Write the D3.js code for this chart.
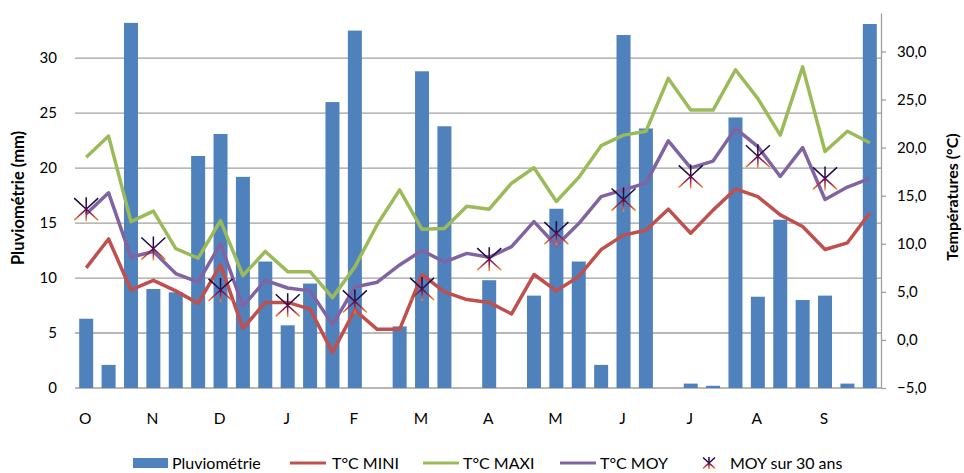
<!DOCTYPE html>
<html>
<head>
<meta charset="utf-8">
<script src="https://cdn.jsdelivr.net/npm/d3@7"></script>
<style>
  body { margin: 0; background: #fff; }
  text { font-family: Lato, "Liberation Sans", sans-serif; fill: #000; }
</style>
</head>
<body>
<script>
/*Original data: 3 decades per month, Oct to Sep*/
const months = ['O','N','D','J','F','M','A','M','J','J','A','S']
const decades = ['O1','O2','O3','N1','N2','N3','D1','D2','D3','J1','J2','J3',
                 'F1','F2','F3','M1','M2','M3','A1','A2','A3','Mai1','Mai2','Mai3',
                 'Jn1','Jn2','Jn3','Jl1','Jl2','Jl3','Ao1','Ao2','Ao3','S1','S2','S3']
const pluvio = [6.3, 2.1, 33.2, 9.0, 8.7, 21.1, 23.1, 19.2, 11.5, 5.7, 9.5, 26.0,
                32.5, 0, 5.6, 28.8, 23.8, 0, 9.8, 0, 8.4, 16.3, 11.5, 2.1,
                32.1, 23.6, 0, 0.4, 0.2, 24.6, 8.3, 15.3, 8.0, 8.4, 0.4, 33.1]
const tMini = [7.5, 10.5, 5.2, 6.2, 5.1, 3.8, 7.8, 1.2, 3.9, 3.9, 3.2, -1.3,
               3.1, 1.1, 1.1, 6.8, 5.0, 4.2, 3.9, 2.7, 6.8, 5.1, 6.6, 9.4,
               10.9, 11.4, 13.6, 11.1, 13.5, 15.7, 14.9, 13.0, 11.8, 9.4, 10.1, 13.2]
const tMaxi = [19.0, 21.2, 12.3, 13.4, 9.5, 8.5, 12.4, 6.7, 9.2, 7.1, 7.1, 4.4,
               7.6, 12.0, 15.6, 11.5, 11.6, 13.9, 13.6, 16.3, 17.9, 14.4, 16.9, 20.2,
               21.3, 21.7, 27.2, 23.9, 23.9, 28.1, 25.1, 21.3, 28.4, 19.6, 21.7, 20.5]
const tMoy = [13.1, 15.3, 8.6, 9.2, 6.9, 6.0, 10.0, 3.5, 6.2, 5.4, 5.1, 1.6,
              5.5, 6.0, 7.8, 9.3, 8.1, 9.0, 8.6, 9.7, 12.3, 9.8, 12.1, 14.9,
              15.6, 16.3, 20.7, 17.9, 18.6, 22.0, 20.1, 17.0, 20.0, 14.6, 15.9, 16.8]
/*30 years mean, one per month (placed on first decade)*/
const moy30 = [13.6, 9.5, 5.2, 3.6, 4.0, 5.3, 8.4, 11.1, 14.6, 17.0, 19.1, 16.8]
const pluvioTicks = [0, 5, 10, 15, 20, 25, 30]
const tempTicks = [-5, 0, 5, 10, 15, 20, 25, 30]

/*canvas size*/
const width = 964;
const height = 473;
const plot = { left: 75, right: 881, top: 13, bottom: 388 };

const svg = d3.select('body').append('svg')
      .attr('width', width).attr('height', height);

/*scales*/
const xScale = d3.scaleBand().domain(decades)
      .range([plot.left, plot.right]).paddingInner(0.375).paddingOuter(0.1875)
const xMid = (i) => xScale(decades[i]) + xScale.bandwidth() / 2
const yLeft = d3.scaleLinear().domain([0, 34.1]).range([plot.bottom, plot.top])
const yRight = d3.scaleLinear().domain([-5, 34]).range([plot.bottom, plot.top])

/*gridlines (left axis)*/
svg.append('g').selectAll('line').data(pluvioTicks).enter().append('line')
   .attr('x1', plot.left).attr('x2', plot.right)
   .attr('y1', (d) => yLeft(d)).attr('y2', (d) => yLeft(d))
   .style('stroke', '#a0a0a0').style('stroke-width', 1.3)

/*left axis, no line*/
const leftAxis = svg.append('g').attr('transform', 'translate(' + plot.left + ',0)')
      .call(d3.axisLeft(yLeft).tickValues(pluvioTicks).tickSize(0).tickPadding(18))
leftAxis.select('.domain').remove()
leftAxis.selectAll('text').style('font-size', '15px').attr('font-family', null)

/*right axis*/
const rightAxis = svg.append('g').attr('transform', 'translate(' + plot.right + ',0)')
      .call(d3.axisRight(yRight).tickValues(tempTicks).tickSize(5).tickSizeOuter(0).tickPadding(11)
            .tickFormat((d) => d3.format('.1f')(d).replace('.', ',')))
rightAxis.select('.domain').style('stroke', '#a0a0a0').style('stroke-width', 1.3)
rightAxis.selectAll('line').style('stroke', '#a0a0a0').style('stroke-width', 1.3)
rightAxis.selectAll('text').style('font-size', '15px').attr('font-family', null)

/*month labels on the first decade of each month*/
svg.append('g').selectAll('text').data(months).enter().append('text')
   .attr('x', (d, i) => xMid(i * 3) - 1).attr('y', 424)
   .attr('text-anchor', 'middle').style('font-size', '15.5px')
   .text((d) => d)

/*bars*/
svg.append('g').selectAll('rect').data(pluvio).enter().append('rect')
   .attr('x', (d, i) => xScale(decades[i])).attr('width', xScale.bandwidth())
   .attr('y', (d) => yLeft(d)).attr('height', (d) => plot.bottom - yLeft(d))
   .style('fill', '#4f81bd')

/*temperature lines*/
const series = [
   { name: 'T°C MINI', values: tMini, color: '#c0504d' },
   { name: 'T°C MAXI', values: tMaxi, color: '#9bbb59' },
   { name: 'T°C MOY', values: tMoy, color: '#8064a2' }
]
const line = d3.line().x((d, i) => xMid(i)).y((d) => yRight(d))
series.forEach((s) => {
   svg.append('path').datum(s.values).attr('d', line)
      .style('fill', 'none').style('stroke', s.color)
      .style('stroke-width', 3.5).style('stroke-linejoin', 'round')
})

/*star marker gradient*/
const grad = svg.append('defs').append('linearGradient').attr('id', 'starGrad')
      .attr('x1', 0).attr('y1', 0).attr('x2', 0).attr('y2', 1)
grad.append('stop').attr('offset', '0%').attr('stop-color', '#0c0c44')
grad.append('stop').attr('offset', '45%').attr('stop-color', '#3a0a4c')
grad.append('stop').attr('offset', '72%').attr('stop-color', '#a8203f')
grad.append('stop').attr('offset', '100%').attr('stop-color', '#ff9a1a')

const starPath = (r) => 'M' + (-r) + ',' + (-r * 0.92) + 'L' + r + ',' + (r * 0.92) +
      'M' + r + ',' + (-r * 0.92) + 'L' + (-r) + ',' + (r * 0.92) +
      'M0,' + (-r) + 'L0,' + r

svg.append('g').selectAll('path').data(moy30).enter().append('path')
   .attr('transform', (d, i) => 'translate(' + xMid(i * 3) + ',' + yRight(d) + ')')
   .attr('d', starPath(12))
   .style('fill', 'none').style('stroke', 'url(#starGrad)').style('stroke-width', 1.5)

/*axis titles*/
svg.append('text').attr('transform', 'translate(24,198) rotate(-90)')
   .attr('text-anchor', 'middle').style('font-size', '16.5px').style('font-weight', 'bold')
   .text('Pluviométrie (mm)')
svg.append('text').attr('transform', 'translate(958,197) rotate(-90)')
   .attr('text-anchor', 'middle').style('font-size', '16px').style('font-weight', 'bold')
   .text('Températures (°C)')

/*legend*/
const legend = svg.append('g')
legend.append('rect').attr('x', 133).attr('y', 458).attr('width', 35).attr('height', 10)
      .style('fill', '#4f81bd')
legend.append('text').attr('x', 172).attr('y', 469).style('font-size', '16px').text('Pluviométrie')
const legendLines = [{ x: 290, tx: 332 }, { x: 423, tx: 463 }, { x: 560, tx: 600 }]
series.forEach((s, i) => {
   legend.append('line').attr('x1', legendLines[i].x).attr('x2', legendLines[i].x + 36)
         .attr('y1', 463).attr('y2', 463)
         .style('stroke', s.color).style('stroke-width', 3)
   legend.append('text').attr('x', legendLines[i].tx).attr('y', 469)
         .style('font-size', '16px').text(s.name)
})
legend.append('path').attr('transform', 'translate(709,463)').attr('d', starPath(6))
      .style('fill', 'none').style('stroke', 'url(#starGrad)').style('stroke-width', 1.5)
legend.append('text').attr('x', 730).attr('y', 469).style('font-size', '16px').text('MOY sur 30 ans')
</script>
</body>
</html>
